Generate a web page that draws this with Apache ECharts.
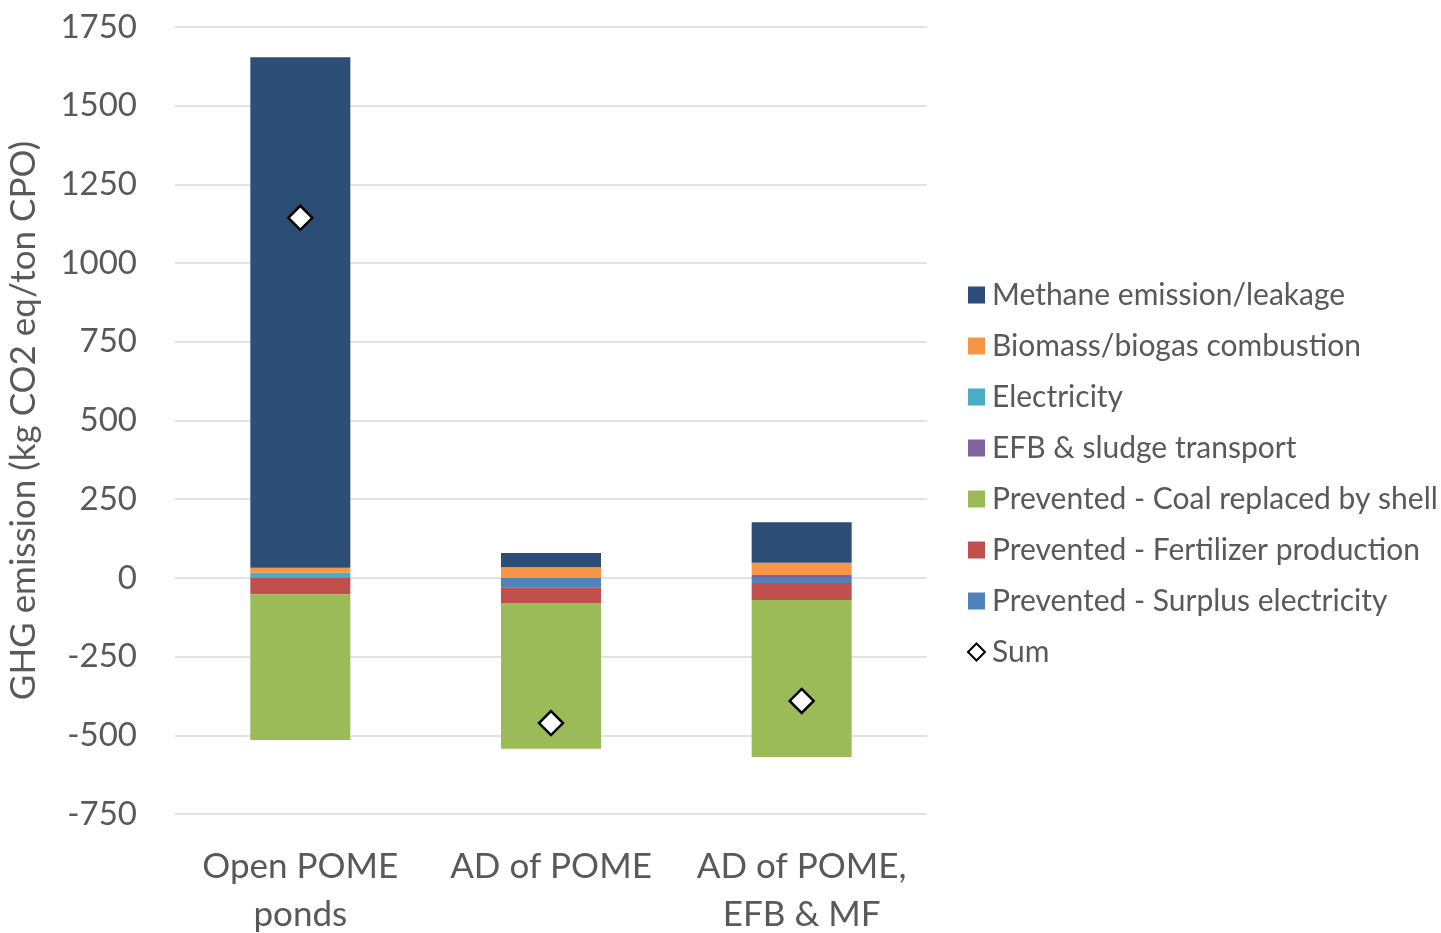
<!DOCTYPE html>
<html><head><meta charset="utf-8">
<script src="https://cdn.jsdelivr.net/npm/echarts@6/dist/echarts.min.js"></script>
<style>html,body{margin:0;padding:0;background:#fff}#c{width:1441px;height:933px}</style>
</head><body><div id="c"></div>
<script>
const categories = ['Open POME\nponds', 'AD of POME', 'AD of POME,\nEFB & MF'];
const methane = [1622, 45, 129];
const biomass = [15, 34, 39];
const electricity = [17, 0, 0];
const efbTransport = [0, 0, 9];
const coalPrevented = [-463, -463, -499];
const fertilizerPrevented = [-52, -49, -54];
const surplusPrevented = [0, -31, -16];
const sumValues = [1144, -461, -391];
const yTicks = { min: -750, max: 1750, interval: 250 };

const names = {
  m: 'Methane emission/leakage', b: 'Biomass/biogas combustion', e: 'Electricity',
  t: 'EFB & sludge transport', c: 'Prevented - Coal replaced by shell',
  f: 'Prevented - Fertilizer production', s: 'Prevented - Surplus electricity', sum: 'Sum'
};
const font = 'Lato, "Open Sans", sans-serif';
function bar(name, data, color) {
  return { name, type: 'bar', stack: 'g', stackStrategy: 'samesign', data, barWidth: 100,
    itemStyle: { color }, emphasis: { disabled: true } };
}
const chart = echarts.init(document.getElementById('c'));
chart.setOption({
  animation: false,
  grid: { left: 175, right: 514, top: 27, bottom: 119, containLabel: false, outerBoundsMode: 'none' },
  legend: {
    orient: 'vertical', left: 962, top: 275, itemWidth: 17, itemHeight: 17, itemGap: 21,
    textStyle: { color: '#595959', fontSize: 30, fontFamily: font, padding: [0, 0, 0, 2] },
    data: [
      { name: names.m, icon: 'rect' }, { name: names.b, icon: 'rect' }, { name: names.e, icon: 'rect' },
      { name: names.t, icon: 'rect' }, { name: names.c, icon: 'rect' }, { name: names.f, icon: 'rect' },
      { name: names.s, icon: 'rect' }, { name: names.sum, icon: 'diamond' }
    ]
  },
  xAxis: {
    type: 'category', data: categories,
    axisLine: { show: false }, axisTick: { show: false },
    axisLabel: { color: '#595959', fontSize: 35, fontFamily: font, margin: 29, lineHeight: 48, interval: 0 }
  },
  yAxis: {
    type: 'value', min: yTicks.min, max: yTicks.max, interval: yTicks.interval,
    name: 'GHG emission (kg CO2 eq/ton CPO)', nameLocation: 'middle', nameGap: 134, nameRotate: 90,
    nameTextStyle: { color: '#595959', fontSize: 35, fontFamily: font },
    axisLabel: { color: '#595959', fontSize: 33, fontFamily: font, margin: 38, formatter: v => String(v) },
    axisLine: { show: false }, axisTick: { show: false },
    splitLine: { lineStyle: { color: '#d9d9d9', width: 1.5 } }
  },
  series: [
    bar(names.s, surplusPrevented, '#4F81BD'),
    bar(names.f, fertilizerPrevented, '#C0504D'),
    bar(names.c, coalPrevented, '#9BBB59'),
    bar(names.e, electricity, '#4BACC6'),
    bar(names.t, efbTransport, '#8064A2'),
    bar(names.b, biomass, '#F79646'),
    bar(names.m, methane, '#2C4D75'),
    { name: names.sum, type: 'scatter', data: sumValues, symbol: 'diamond', symbolSize: 24,
      itemStyle: { color: '#fff', borderColor: '#000', borderWidth: 2.5, opacity: 1 }, z: 10,
      emphasis: { disabled: true } }
  ]
});
</script></body></html>
